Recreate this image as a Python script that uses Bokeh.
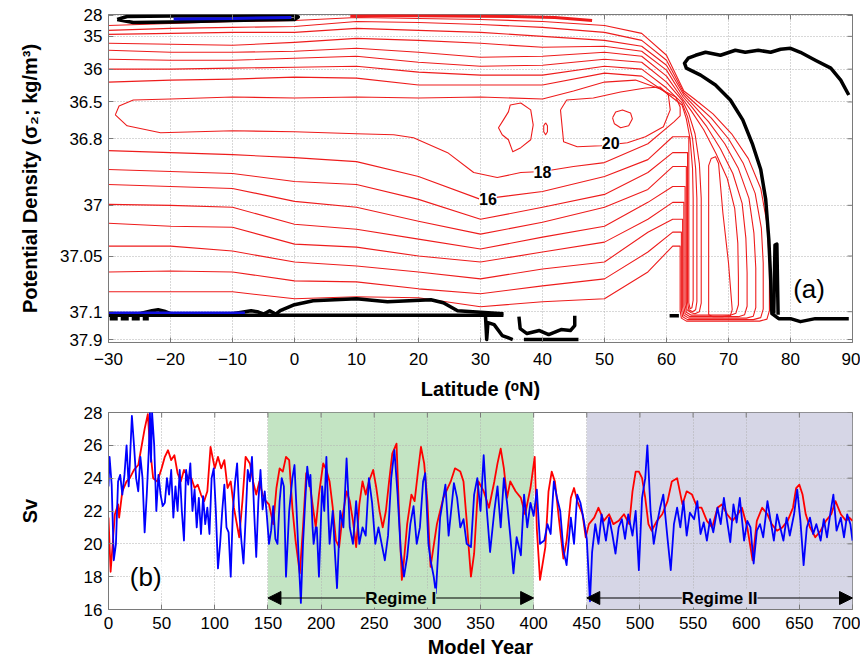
import math
from bokeh.plotting import figure
from bokeh.models import Range1d, FixedTicker, Label, Arrow, NormalHead, BoxAnnotation
from bokeh.layouts import column
from bokeh.embed import file_html
from bokeh.resources import INLINE

FONT = "Liberation Sans"

# ------------------------------------------------------------------ panel (a) data
lat_ticks = [-30, -20, -10, 0, 10, 20, 30, 40, 50, 60, 70, 80, 90]
sigma_tick_labels = ["28", "35", "36", "36.5", "36.8", "37", "37.05", "37.1", "37.9"]
sigma_tick_layer = [0.2, 4.4, 11.0, 17.6, 25.0, 38.4, 48.6, 59.8, 65.4]   # model layer index of each density level

psi_levels = [2, 4, 6, 8, 10, 12, 14, 16]
upper_lat = [-30, -20, -10, 0, 10, 20, 30, 40, 50, 56, 60]
upper_02 = [2.2, 1.8, 1.4, 1.2, 0.6, 0.8, 1.0, 1.4, 2.2, 3.8, 8.2]
upper_04 = [3.2, 2.8, 2.6, 2.4, 1.4, 1.6, 2.0, 2.6, 3.6, 5.2, 9.2]
upper_06 = [4.0, 3.8, 3.6, 3.6, 2.8, 3.2, 3.6, 4.4, 5.2, 6.4, 10.2]
upper_08 = [5.8, 6.0, 6.2, 5.6, 4.8, 5.2, 5.8, 6.6, 6.4, 7.4, 11.2]
upper_10 = [7.2, 7.6, 7.6, 7.4, 6.8, 7.6, 8.6, 8.4, 7.6, 8.4, 12.4]
upper_12 = [9.0, 9.2, 9.2, 8.8, 8.4, 9.6, 10.4, 10.2, 9.0, 9.6, 13.6]
upper_14 = [11.0, 11.0, 10.8, 10.6, 10.4, 11.6, 12.2, 12.2, 10.4, 11.0, 14.8]
upper_16 = [13.6, 13.2, 13.0, 12.6, 12.8, 14.2, 14.2, 14.2, 11.8, 12.4, 15.8]

east_02 = [(62.8, 15.4), (64.5, 17.0), (67.5, 20.0), (70.5, 24.0), (73.2, 29.0), (75.2, 35.0), (76.2, 42.0), (76.6, 50.0),
           (76.6, 59.6), (76.2, 61.3), (75.0, 61.7), (63.2, 61.7), (62.4, 61.1), (62.2, 59.6), (62.2, 46.6)]
east_04 = [(62.8, 15.8), (64.4, 17.6), (67.2, 20.8), (70.0, 25.0), (72.4, 30.0), (74.3, 36.0), (75.3, 43.0), (75.6, 50.0),
           (75.6, 59.3), (75.2, 61.0), (74.0, 61.4), (63.4, 61.4), (62.6, 60.8), (62.4, 59.3), (62.4, 43.8)]
east_06 = [(62.8, 16.2), (64.3, 18.2), (66.8, 21.6), (69.4, 26.0), (71.6, 31.0), (73.3, 37.0), (74.1, 44.0), (74.4, 51.0),
           (74.4, 59.0), (74.0, 60.7), (72.9, 61.1), (63.6, 61.1), (62.8, 60.5), (62.6, 59.0), (62.6, 41.2)]
east_08 = [(62.7, 16.6), (64.2, 18.8), (66.4, 22.4), (68.7, 27.0), (70.7, 32.0), (72.2, 38.0), (72.8, 45.0), (73.0, 52.0),
           (73.0, 58.7), (72.6, 60.4), (71.6, 60.8), (63.8, 60.8), (63.0, 60.2), (62.8, 58.7), (62.8, 37.8)]
east_10 = [(62.6, 17.0), (64.0, 19.4), (66.0, 23.2), (68.0, 28.0), (69.8, 33.0), (71.0, 39.0), (71.5, 46.0), (71.6, 53.0),
           (71.6, 58.4), (71.2, 60.1), (70.3, 60.5), (64.0, 60.5), (63.2, 59.9), (63.0, 58.4), (63.0, 34.6)]
east_12 = [(62.6, 17.4), (63.6, 20.0), (64.6, 24.0), (65.3, 30.0), (65.6, 37.0), (65.6, 58.1), (65.3, 59.8), (64.6, 60.2),
           (64.0, 60.0), (63.3, 59.4), (63.2, 57.8), (63.2, 30.6)]
east_14 = [(62.5, 17.8), (63.4, 20.6), (64.2, 25.0), (64.7, 31.0), (64.9, 37.0), (64.9, 57.8), (64.7, 59.4), (64.2, 59.8),
           (63.6, 59.4), (63.4, 58.0), (63.4, 27.8)]
east_16 = [(62.5, 18.2), (63.2, 21.0), (63.8, 25.0), (64.2, 31.0), (64.3, 37.0), (64.3, 57.5), (64.1, 59.0), (63.8, 59.2),
           (63.6, 58.0), (63.6, 24.6)]

lower_lat = [61, 57, 50, 40, 30, 20, 10, 0, -10, -20, -30]
lower_02 = [46.6, 51.8, 57.2, 57.8, 58.8, 57.0, 56.8, 57.2, 55.8, 55.8, 55.8]
lower_04 = [43.8, 47.8, 53.2, 54.6, 56.2, 55.2, 53.8, 53.6, 51.8, 51.6, 51.8]
lower_06 = [41.2, 43.8, 49.8, 51.2, 53.2, 51.8, 50.6, 49.8, 47.6, 46.6, 46.6]
lower_08 = [37.8, 41.2, 45.8, 47.8, 49.8, 48.6, 46.8, 46.2, 42.8, 42.6, 42.0]
lower_10 = [34.6, 37.8, 42.6, 44.8, 47.2, 45.2, 43.2, 42.2, 38.8, 38.4, 38.2]
lower_12 = [30.6, 35.2, 38.8, 41.8, 44.2, 41.6, 38.8, 37.6, 35.0, 34.6, 34.2]
lower_14 = [27.8, 31.8, 36.2, 38.8, 41.2, 37.2, 34.2, 33.6, 32.0, 31.6, 31.2]
lower_16 = [24.6, 29.2, 32.6, 35.6, 37.2, 32.6, 29.6, 28.8, 28.2, 27.8, 27.4]

c18_lat = [-28.9, -28.3, -26, -20, -10, 0, 10, 20, 30, 40, 45, 50, 55, 59, 61.5, 62.2, 62.2, 61.2, 57, 50, 45, 40,
           36.5, 32.7, 28.9, 24.7, 19.2, 16, 10, 0, -10, -21.6, -27, -28.9]
c18_k = [20.2, 18.4, 17.2, 17.0, 16.6, 16.8, 16.6, 16.8, 16.6, 17.0, 15.4, 13.6, 13.2, 15.0, 16.6, 18.6, 20.4, 21.6,
         26.0, 29.8, 30.6, 31.6, 31.8, 32.8, 31.8, 27.8, 24.8, 24.2, 24.0, 23.6, 23.4, 23.8, 22.4, 20.2]
c20_main_lat = [42.9, 43.9, 48.2, 52.6, 56.6, 59.0, 60.3, 60.6, 59.5, 56.6, 53.7, 49.4, 45.6, 43.4, 42.9]
c20_main_k = [19.2, 17.2, 16.8, 15.6, 14.8, 14.6, 16.2, 19.2, 22.6, 24.6, 25.8, 26.4, 26.6, 25.6, 19.2]
c20_isl_lat = [34.8, 36.5, 38.1, 38.5, 38.1, 36.5, 35.2, 34.5, 33.5, 32.9, 33.7, 34.5, 34.8]
c20_isl_k = [18.2, 17.8, 19.2, 22.2, 25.2, 26.8, 27.6, 25.2, 24.2, 22.8, 21.2, 19.6, 18.2]
c20_dot_lat = [40.5, 40.8, 40.8, 40.5, 40.2, 40.2, 40.5]
c20_dot_k = [21.8, 22.4, 23.6, 24.2, 23.6, 22.4, 21.8]
c22_lat = [51.3, 51.8, 52.9, 54.2, 54.5, 53.9, 52.6, 51.6, 51.3]
c22_k = [20.8, 19.6, 19.2, 19.8, 21.0, 22.4, 22.8, 22.0, 20.8]
cisl_lat = [66.8, 66.8, 67.2, 67.9, 68.4, 69.1, 70.0, 70.6, 70.3, 69.0, 67.5, 66.8]
cisl_k = [60.4, 30.4, 29.0, 28.6, 30.0, 40.0, 50.0, 59.4, 60.6, 60.8, 60.8, 60.4]
surf_lat = [9, 15, 25, 35, 42, 48]
surf_k = [0.3, 0.2, 0.3, 0.4, 0.6, 1.2]

zero_n_lat = [89.4, 88.1, 86.5, 84.0, 81.6, 80.0, 78.4, 76.8, 74.8, 72.7, 71.1, 68.7, 66.3, 64.7, 63.5, 62.9, 63.2,
              65.5, 67.9, 70.3, 72.3, 73.9, 75.2, 76.0, 76.5, 76.8, 77.0, 78.1, 80.0, 81.6, 84.0, 89.4]
zero_n_k = [16.2, 13.2, 10.8, 9.2, 7.6, 6.8, 7.0, 7.6, 7.2, 7.6, 7.2, 8.2, 7.6, 8.2, 8.8, 9.8, 10.8,
            12.2, 14.2, 17.2, 21.2, 26.2, 31.2, 37.2, 45.2, 53.2, 60.2, 61.2, 61.2, 61.8, 61.2, 61.2]
zero_spike_lat = [77.3, 77.5, 77.8, 78.0]
zero_spike_k = [60.2, 46.4, 46.2, 60.4]
zero_top_lat = [-28.6, -27.0, -20.0, -10.0, 0.0, 0.6, 0.0, -10.0, -20.0, -26.0, -28.6]
zero_top_k = [1.0, 0.4, 0.3, 0.3, 0.2, 0.5, 1.0, 1.2, 1.5, 1.6, 1.0]
blue_top_lat = [-19.5, -10.0, -0.5]
blue_top_k = [0.9, 0.8, 0.6]
zero_bot_lat = [-30, -25, -23, -22, -21, -20, -10, -7, -6, -5, -4, -3, -2.3, 0, 3, 10, 15, 22, 24, 26.3, 33.7]
zero_bot_k = [60.2, 60.2, 59.6, 59.4, 59.7, 60.2, 60.2, 59.6, 59.8, 60.3, 59.6, 60.3, 59.6, 58.4, 57.6, 57.2, 57.8, 57.4,
              58.0, 59.6, 60.2]
zero_base_lat = [-30, 33.7]
zero_base_k = [60.5, 60.5]
zero_dash_lat = [-29.8, -23.5]
zero_dash_k = [61.2, 61.2]
blue_bot_lat = [-30, -8]
blue_bot_k = [60.0, 60.0]
zero_k_shape_lat = [30.8, 31.0, 31.2, 32.2, 33.5, 35.2]
zero_k_shape_k = [60.6, 65.4, 62.0, 62.4, 64.6, 65.4]
zero_box_lat = [36.2, 36.4, 37.5, 39.5, 41.0, 43.0, 44.5, 45.2, 45.2]
zero_box_k = [60.8, 63.2, 64.2, 63.6, 64.4, 63.4, 63.6, 62.6, 60.6]
zero_box2_lat = [37.0, 45.8]
zero_box2_k = [65.4, 65.4]
zero_blob_lat = [60.5, 62.0]
zero_blob_k = [60.6, 60.6]

# ------------------------------------------------------------------ panel (b) data
year_ticks = [0, 50, 100, 150, 200, 250, 300, 350, 400, 450, 500, 550, 600, 650, 700]
sv_ticks = [16, 18, 20, 22, 24, 26, 28]
regime_1 = (150, 400)
regime_2 = (450, 700)

red_year = [0, 2, 6, 9, 10, 13, 17, 20, 24, 28, 31, 34, 37, 39, 42, 46, 50, 53, 56, 59, 62, 65, 68, 71, 75, 78, 81,
            84, 87, 90, 93, 96, 100, 103, 106, 109, 112, 115, 118, 123, 126, 129, 133, 136, 139, 142, 145, 148, 151,
            155, 158, 161, 164, 167, 170, 173, 176, 180, 183, 186, 189, 192, 195, 198, 202, 205, 208, 211, 214, 217,
            220, 224, 227, 230, 233, 236, 239, 242, 245, 249, 252, 255, 258, 261, 264, 267, 271, 273, 276, 278, 281,
            285, 288, 291, 294, 297, 300, 303, 309, 315, 322, 326, 331, 334, 337, 341, 344, 348, 353, 358, 363, 366,
            369, 372, 375, 378, 383, 388, 392, 397, 401, 403, 406, 411, 414, 417, 420, 424, 428, 431, 435, 438, 441,
            446, 449, 452, 457, 461, 466, 471, 475, 480, 485, 490, 493, 496, 499, 502, 505, 508, 511, 516, 521, 526,
            530, 535, 540, 544, 549, 554, 558, 563, 568, 573, 577, 582, 587, 592, 596, 601, 606, 610, 615, 620, 624,
            629, 634, 639, 644, 647, 650, 653, 656, 660, 665, 670, 675, 680, 684, 689, 694, 697, 700]
red_sv = [21.6, 18.3, 21.8, 22.4, 21.6, 23.2, 23.8, 24.0, 24.5, 24.8, 25.9, 27.0, 27.9, 25.9, 24.0, 23.8, 24.6, 25.3,
          25.7, 25.1, 25.4, 24.3, 23.8, 24.5, 24.0, 24.0, 23.4, 23.6, 23.0, 22.6, 23.2, 25.9, 24.6, 25.3, 24.6, 25.1,
          23.4, 23.8, 22.2, 20.4, 22.6, 25.3, 24.9, 23.8, 23.0, 23.8, 23.0, 22.6, 22.4, 21.2, 23.4, 24.6, 24.4, 25.3,
          25.1, 22.2, 20.2, 18.2, 21.0, 24.3, 23.8, 22.4, 21.0, 23.0, 24.9, 24.5, 23.8, 22.2, 20.2, 19.8, 21.6, 23.2,
          22.6, 21.4, 19.8, 22.4, 23.8, 23.0, 23.8, 24.5, 23.4, 22.0, 21.0, 22.0, 23.8, 25.5, 26.1, 22.5, 17.8, 19.0,
          21.2, 23.0, 22.6, 24.3, 25.9, 24.9, 22.6, 18.6, 21.2, 22.8, 23.8, 24.6, 24.4, 23.8, 21.4, 18.0, 19.4, 23.8,
          23.2, 22.2, 23.8, 24.9, 25.8, 24.6, 22.8, 23.8, 23.2, 22.8, 21.8, 23.4, 25.3, 20.9, 17.8, 19.8, 23.2, 24.4,
          23.8, 21.4, 19.1, 20.2, 22.8, 23.4, 22.6, 21.8, 20.4, 21.2, 21.6, 22.2, 21.4, 21.8, 21.2, 21.4, 21.8, 21.2,
          23.2, 24.4, 24.4, 24.0, 22.8, 21.2, 20.8, 21.4, 21.8, 22.6, 23.8, 24.0, 22.4, 23.2, 23.0, 22.2, 22.2, 21.4,
          21.0, 22.2, 22.4, 21.8, 21.4, 21.8, 22.2, 21.0, 19.0, 21.4, 22.2, 21.8, 21.2, 20.8, 21.0, 21.4, 22.2, 23.4,
          23.6, 23.0, 21.8, 21.0, 20.4, 20.8, 21.4, 21.8, 22.6, 21.8, 21.4, 21.6, 21.4]

blue_year = [0, 1, 3, 5, 7, 9, 11, 13, 15, 17, 19, 20, 22, 24, 26, 28, 30, 32, 34, 36, 38, 39, 40, 41, 43, 45, 47, 49,
             51, 53, 55, 57, 59, 61, 63, 65, 67, 69, 71, 73, 75, 77, 79, 81, 83, 85, 87, 89, 91, 93, 95, 97, 99, 101,
             103, 105, 107, 109, 111, 113, 115, 117, 119, 121, 123, 125, 127, 129, 131, 133, 135, 137, 139, 141, 143,
             145, 147, 149, 151, 153, 155, 157, 159, 161, 163, 165, 167, 170, 173, 175, 177, 179, 181, 183, 185, 187,
             189, 190, 192, 193, 195, 196, 198, 201, 203, 205, 207, 208, 211, 213, 215, 218, 221, 224, 226, 227, 230,
             233, 236, 239, 242, 245, 248, 251, 254, 257, 260, 263, 266, 269, 272, 275, 278, 281, 284, 287, 290, 293,
             296, 298, 301, 303, 306, 308, 312, 317, 320, 325, 328, 331, 334, 337, 341, 344, 347, 350, 353, 356, 359,
             363, 366, 369, 372, 375, 378, 381, 384, 388, 391, 394, 397, 400, 403, 406, 410, 413, 416, 419, 422, 425,
             428, 431, 435, 438, 441, 444, 447, 450, 453, 455, 458, 461, 464, 468, 471, 474, 477, 480, 483, 486, 489,
             493, 496, 499, 502, 505, 507, 510, 513, 516, 519, 522, 526, 529, 532, 535, 538, 541, 544, 547, 551, 554,
             557, 560, 563, 566, 569, 573, 576, 579, 582, 585, 588, 591, 594, 598, 601, 604, 607, 610, 613, 616, 620,
             623, 626, 629, 632, 635, 638, 641, 645, 648, 651, 654, 657, 660, 663, 666, 670, 673, 676, 679, 682, 685,
             689, 692, 695, 698, 700]
blue_sv = [23.5, 25.3, 23.6, 19.0, 20.0, 23.8, 24.2, 23.0, 24.2, 26.0, 23.5, 24.8, 27.8, 26.0, 24.0, 23.2, 25.3, 24.0,
           20.7, 23.0, 25.8, 28.0, 25.0, 28.0, 26.0, 22.0, 24.2, 23.0, 22.3, 22.5, 24.0, 23.0, 24.5, 21.6, 23.5, 22.0,
           24.5, 22.0, 20.2, 24.5, 23.6, 24.9, 22.0, 23.3, 21.0, 22.8, 20.6, 22.9, 21.2, 22.2, 20.6, 24.0, 24.6, 22.0,
           18.5, 20.0, 22.0, 23.6, 21.0, 20.7, 18.0, 22.0, 23.7, 24.9, 22.0, 20.2, 18.8, 21.5, 24.5, 23.8, 25.3, 22.0,
           19.2, 22.6, 24.5, 22.1, 23.2, 21.7, 20.0, 20.8, 22.3, 20.3, 20.0, 22.6, 24.0, 23.5, 18.0, 22.0, 24.0, 24.8,
           22.0, 19.0, 16.4, 20.0, 22.5, 24.7, 23.5, 24.2, 21.0, 20.0, 21.0, 21.0, 18.0, 23.5, 22.0, 25.3, 21.5, 20.0,
           22.0, 19.5, 17.3, 22.0, 21.0, 25.2, 22.5, 21.0, 20.0, 22.6, 20.0, 21.0, 20.5, 24.0, 22.5, 20.0, 21.0, 20.0,
           19.0, 20.5, 24.0, 25.7, 23.0, 19.5, 18.0, 19.2, 21.2, 22.3, 20.0, 21.0, 23.8, 24.3, 20.0, 19.0, 18.0, 17.0,
           21.6, 23.6, 20.5, 23.7, 22.8, 21.0, 21.5, 20.0, 19.8, 23.0, 24.0, 22.0, 25.4, 22.0, 19.5, 22.0, 23.5, 21.0,
           24.0, 22.5, 20.5, 18.2, 20.4, 19.3, 23.0, 21.0, 22.5, 21.7, 23.3, 20.0, 20.2, 21.2, 20.6, 23.8, 22.8, 22.0,
           19.6, 18.7, 21.6, 20.0, 23.0, 22.5, 21.5, 20.3, 16.5, 19.5, 21.2, 20.0, 21.8, 20.2, 21.6, 20.6, 19.4, 21.0,
           21.5, 20.3, 21.8, 20.5, 22.0, 18.4, 22.8, 24.0, 26.0, 22.0, 20.0, 21.2, 22.2, 23.0, 20.3, 18.4, 21.2, 22.2,
           21.0, 22.6, 20.5, 21.9, 21.5, 22.6, 20.6, 21.3, 20.2, 21.5, 20.7, 22.2, 21.2, 22.8, 21.4, 20.1, 22.4, 21.3,
           22.8, 20.2, 21.4, 21.0, 18.8, 20.8, 21.2, 20.4, 22.6, 21.4, 20.2, 21.8, 21.0, 20.2, 21.6, 20.5, 21.8, 23.3,
           21.4, 18.7, 21.0, 21.6, 20.6, 21.2, 20.2, 21.5, 20.4, 21.8, 23.0, 20.8, 21.6, 20.4, 21.8, 21.2, 20.2]


# ------------------------------------------------------------------ helpers
AX_COL = "#7a7a7a"


def style(p):
    p.outline_line_color = AX_COL
    p.outline_line_width = 1
    for ax in (p.xaxis[0], p.yaxis[0]):
        ax.major_tick_in = 5
        ax.major_tick_out = 0
        ax.minor_tick_line_color = None
        ax.axis_line_color = AX_COL
        ax.major_tick_line_color = AX_COL
        ax.major_label_text_font = FONT
        ax.major_label_text_font_size = "17px"
        ax.major_label_text_color = "black"
        ax.axis_label_text_font = FONT
        ax.axis_label_text_font_size = "20px"
        ax.axis_label_text_font_style = "bold"
        ax.axis_label_text_color = "black"
    for g in (p.xgrid[0], p.ygrid[0]):
        g.grid_line_color = "#b0b0b0"
        g.grid_line_dash = "1 2"
        g.grid_line_width = 1
    p.background_fill_color = "white"
    p.border_fill_color = "white"


def mirror_ticks(p, xticks, yticks, top, right):
    # inward ticks on the top and right frame edges (markers are clipped to the frame)
    p.scatter(x=xticks, y=[top] * len(xticks), marker="dash", angle=math.pi / 2, size=10,
              line_color=AX_COL, line_width=1)
    p.scatter(x=[right] * len(yticks), y=yticks, marker="dash", size=10, line_color=AX_COL, line_width=1)


# ------------------------------------------------------------------ panel (a)
p1 = figure(width=860, height=402, x_range=Range1d(-30, 90), y_range=Range1d(66, 0),
            output_backend="svg", toolbar_location=None,
            min_border_left=108, min_border_right=8, min_border_top=14, min_border_bottom=58)
style(p1)
p1.xaxis.ticker = FixedTicker(ticks=lat_ticks)
p1.yaxis.ticker = FixedTicker(ticks=sigma_tick_layer)
p1.yaxis.major_label_overrides = {t: s for t, s in zip(sigma_tick_layer, sigma_tick_labels)}
p1.xaxis.axis_label = "Latitude (\u1d52N)"
p1.yaxis.axis_label = "Potential Density (\u03c3\u2082; kg/m\u00b3)"
p1.xaxis.major_label_standoff = 10
p1.yaxis.major_label_standoff = 6
p1.xaxis.axis_label_standoff = 10
p1.yaxis.axis_label_standoff = 16

RED = "#ee1c1c"
uppers = [upper_02, upper_04, upper_06, upper_08, upper_10, upper_12, upper_14, upper_16]
easts = [east_02, east_04, east_06, east_08, east_10, east_12, east_14, east_16]
lowers = [lower_02, lower_04, lower_06, lower_08, lower_10, lower_12, lower_14, lower_16]
for lev, up, ea, lo in zip(psi_levels, uppers, easts, lowers):
    xs = upper_lat + [q[0] for q in ea] + lower_lat
    ys = up + [q[1] for q in ea] + lo
    p1.line(xs, ys, line_color=RED, line_width=1.1, line_join="round")
for xs, ys in [(c18_lat, c18_k), (c20_main_lat, c20_main_k), (c20_isl_lat, c20_isl_k), (c20_dot_lat, c20_dot_k),
               (c22_lat, c22_k), (cisl_lat, cisl_k)]:
    p1.line(xs, ys, line_color=RED, line_width=1.1, line_join="round")
p1.line(surf_lat, surf_k, line_color=RED, line_width=3)

for xs, ys in [(zero_n_lat, zero_n_k), (zero_spike_lat, zero_spike_k), (zero_top_lat, zero_top_k),
               (zero_bot_lat, zero_bot_k), (zero_base_lat, zero_base_k), (zero_k_shape_lat, zero_k_shape_k),
               (zero_box_lat, zero_box_k), (zero_box2_lat, zero_box2_k), (zero_blob_lat, zero_blob_k)]:
    p1.line(xs, ys, line_color="black", line_width=3.5, line_join="round")
p1.line(zero_dash_lat, zero_dash_k, line_color="black", line_width=3.5, line_dash="8 3")
p1.line(blue_top_lat, blue_top_k, line_color="#1010e0", line_width=3)
p1.line(blue_bot_lat, blue_bot_k, line_color="#1010e0", line_width=2.5)
mirror_ticks(p1, lat_ticks, sigma_tick_layer, p1.y_range.end, p1.x_range.end)

for txt, la, kk in [("16", 31.2, 37.2), ("18", 40.0, 31.6), ("20", 51.0, 25.8)]:
    p1.add_layout(Label(x=la, y=kk, text=txt, text_align="center", text_baseline="middle",
                        text_font=FONT, text_font_size="16px", text_font_style="bold", text_color="black",
                        background_fill_color="white", background_fill_alpha=1.0))
p1.add_layout(Label(x=83.0, y=55.2, text="(a)", text_align="center", text_baseline="middle",
                    text_font=FONT, text_font_size="26px", text_color="black"))

# ------------------------------------------------------------------ panel (b)
p2 = figure(width=860, height=259, x_range=Range1d(0, 700), y_range=Range1d(16, 28),
            output_backend="svg", toolbar_location=None,
            min_border_left=108, min_border_right=8, min_border_top=10, min_border_bottom=52)
style(p2)
p2.xaxis.ticker = FixedTicker(ticks=year_ticks)
p2.yaxis.ticker = FixedTicker(ticks=sv_ticks)
p2.xaxis.axis_label = "Model Year"
p2.yaxis.axis_label = "Sv"
p2.xaxis.major_label_standoff = 7
p2.yaxis.major_label_standoff = 6
p2.xaxis.axis_label_standoff = 4
p2.yaxis.axis_label_standoff = 40

GREEN = "#c3e4c3"
LAV = "#d6d6e6"
p2.add_layout(BoxAnnotation(left=regime_1[0], right=regime_1[1], fill_color=GREEN, fill_alpha=1.0,
                            line_color=None, level="image"))
p2.add_layout(BoxAnnotation(left=regime_2[0], right=regime_2[1], fill_color=LAV, fill_alpha=1.0,
                            line_color=None, level="image"))

p2.line(red_year, red_sv, line_color="#ff0000", line_width=1.8, line_join="round")
p2.line(blue_year, blue_sv, line_color="#0000ff", line_width=1.8, line_join="round")
mirror_ticks(p2, year_ticks, sv_ticks, p2.y_range.end, p2.x_range.end)

ARROW_Y = 16.7
for (a, b), name, bg in [(regime_1, "Regime I", GREEN), (regime_2, "Regime II", LAV)]:
    mid = (a + b) / 2
    for end in (a, b):
        p2.add_layout(Arrow(end=NormalHead(size=13, fill_color="black", line_color="black"),
                            x_start=mid, y_start=ARROW_Y, x_end=end, y_end=ARROW_Y,
                            line_color="black", line_width=1.2))
    p2.add_layout(Label(x=mid, y=ARROW_Y, text=name, text_align="center", text_baseline="middle",
                        text_font=FONT, text_font_size="17px", text_font_style="bold", text_color="black",
                        background_fill_color=bg, background_fill_alpha=1.0))
p2.add_layout(Label(x=35, y=18, text="(b)", text_align="center", text_baseline="middle",
                    text_font=FONT, text_font_size="26px", text_color="black",
                    background_fill_color="white", background_fill_alpha=1.0))

layout = column(p1, p2, spacing=0)
open("out.html", "w").write(file_html(layout, INLINE))
